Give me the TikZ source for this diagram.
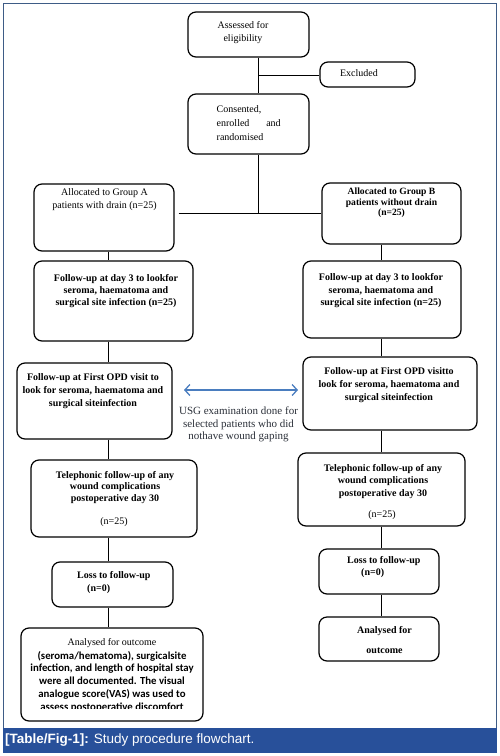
\documentclass[tikz,border=0pt]{standalone}
\usepackage{fontspec}
\setmainfont{Liberation Serif}
\newfontfamily\calfont{Carlito}
\newfontfamily\capfont{Liberation Sans}
\usetikzlibrary{arrows.meta}
\definecolor{framecol}{HTML}{3E5C86}
\definecolor{barcol}{HTML}{28509A}
\definecolor{arrcol}{HTML}{4A7DBF}
\definecolor{usgcol}{HTML}{2A2F38}
\begin{document}
\begin{tikzpicture}[x=1pt,y=-1pt,
  box/.style={draw=black, line width=1.2pt, rounded corners=8pt, inner sep=0pt},
  conn/.style={draw=black, line width=0.9pt},
  txt/.style={inner sep=0pt, align=center, font=\fontsize{10}{13}\selectfont},
  btxt/.style={inner sep=0pt, align=center, font=\fontsize{10}{13}\selectfont\bfseries}]
\useasboundingbox (0,0) rectangle (499,756);
% frame and caption bar
\draw[framecol, line width=1pt] (3,3) rectangle (496,728);
\fill[barcol] (2.5,728) rectangle (496.5,753);
\node[anchor=base west, inner sep=0pt, text=white, font=\capfont\fontsize{13.5}{16}\selectfont] (cap) at (5,743.5) {\textbf{[Table/Fig-1]:} Study procedure flowchart.};
% boxes
\node[box, minimum width=121pt, minimum height=45pt] (b1) at (248.5,34.5) {};
\node[box, minimum width=95pt, minimum height=25pt] (bex) at (367.5,74.5) {};
\node[box, minimum width=121pt, minimum height=60pt] (b2) at (248.5,124) {};
\node[box, minimum width=140pt, minimum height=67pt] (gA) at (104,217.5) {};
\node[box, minimum width=139pt, minimum height=61pt] (gB) at (391.5,213.5) {};
\node[box, minimum width=159pt, minimum height=80pt] (dA) at (113.5,301) {};
\node[box, minimum width=158pt, minimum height=77pt] (dB) at (382,299.5) {};
\node[box, minimum width=155pt, minimum height=76pt] (oA) at (94.5,401) {};
\node[box, minimum width=174pt, minimum height=73pt] (oB) at (390,393.5) {};
\node[box, minimum width=166pt, minimum height=77pt] (tA) at (114,498.5) {};
\node[box, minimum width=167pt, minimum height=73pt] (tB) at (381.5,489.5) {};
\node[box, minimum width=121pt, minimum height=45pt] (lA) at (112.5,584.5) {};
\node[box, minimum width=120pt, minimum height=45pt] (lB) at (379,571.5) {};
\node[box, minimum width=182pt, minimum height=93pt] (aA) at (112,674.5) {};
\node[box, minimum width=120pt, minimum height=44pt] (aB) at (379,639) {};
% connector coordinates
\coordinate (spine) at (258,0);
\coordinate (exj) at (258,75);
\coordinate (jn) at (258,213);
\coordinate (colA) at (108,0);
\coordinate (colB) at (381.5,0);
\coordinate (arrL) at (184,390);
\coordinate (arrR) at (298,390);
% connectors
\draw[conn] (b1.south -| spine) -- (b2.north -| spine);
\draw[conn] (exj) -- (exj -| bex.west);
\draw[conn] (b2.south -| spine) -- (jn);
\draw[conn, shorten <=4pt] (jn -| gA.east) -- (jn -| gB.west);
\draw[conn] (gA.south -| colA) -- (dA.north -| colA);
\draw[conn] (dA.south -| colA) -- (oA.north -| colA);
\draw[conn] (oA.south -| colA) -- (tA.north -| colA);
\draw[conn] (tA.south -| colA) -- (lA.north -| colA);
\draw[conn] (lA.south -| colA) -- (aA.north -| colA);
\draw[conn] (gB.south -| colB) -- (dB.north -| colB);
\draw[conn] (dB.south -| colB) -- (oB.north -| colB);
\draw[conn] (oB.south -| colB) -- (tB.north -| colB);
\draw[conn] (tB.south -| colB) -- (lB.north -| colB);
\draw[conn] (lB.south -| colB) -- (aB.north -| colB);
\draw[arrcol, line width=1.3pt, {Straight Barb[length=5pt,width=11pt]}-{Straight Barb[length=5pt,width=11pt]}] (arrL) -- (arrR);
% texts
\node[txt] (t1) at (243,32.5) {Assessed for\\eligibility};
\node[txt] (tex) at (359,73) {Excluded};
\node[txt, align=left, anchor=west, font=\fontsize{10}{14}\selectfont] (t2) at (216.5,123) {Consented,\\\hbox to 64pt{enrolled\hfill and}\\randomised};
\node[txt] (tgA) at (104.5,199.5) {Allocated to Group A\\patients with drain (n=25)};
\node[btxt, font=\fontsize{9.6}{10.5}\selectfont\bfseries] (tgB) at (391.5,203) {Allocated to Group B\\patients without drain\\(n=25)};
\node[btxt, font=\fontsize{10}{12}\selectfont\bfseries] (tdA) at (116,291) {Follow-up at day 3 to lookfor\\seroma, haematoma and\\surgical site infection (n=25)};
\node[btxt, font=\fontsize{10}{12.5}\selectfont\bfseries] (tdB) at (381,291) {Follow-up at day 3 to lookfor\\seroma, haematoma and\\surgical site infection (n=25)};
\node[btxt] (toA) at (93,391.3) {Follow-up at First OPD visit to\\look for seroma, haematoma and\\surgical siteinfection};
\node[btxt, font=\fontsize{10}{13}\selectfont\bfseries] (toB) at (389,385) {Follow-up at First OPD visitto\\look for seroma, haematoma and\\surgical siteinfection};
\node[txt, text=usgcol, font=\fontsize{11}{12.5}\selectfont] (tusg) at (238.5,424.7) {USG examination done for\\selected patients who did\\nothave wound gaping};
\node[btxt, font=\fontsize{10}{11.5}\selectfont\bfseries] (ttA) at (115,487.5) {Telephonic follow-up of any\\wound complications\\postoperative day 30};
\node[txt] (tnA) at (114,522) {(n=25)};
\node[btxt, font=\fontsize{10}{12.5}\selectfont\bfseries] (ttB) at (383,481.5) {Telephonic follow-up of any\\wound complications\\postoperative day 30};
\node[txt] (tnB) at (382,515) {(n=25)};
\node[btxt, align=left, anchor=west] (tlA) at (77,582.5) {Loss to follow-up\\\hspace*{10pt}(n=0)};
\node[btxt, align=left, anchor=west, font=\fontsize{10}{12}\selectfont\bfseries] (tlB) at (347,567) {Loss to follow-up\\\hspace*{14pt}(n=0)};
\node[btxt, font=\fontsize{10}{20}\selectfont\bfseries] (taB) at (384.5,640) {Analysed for\\outcome};
\node[txt] (taA1) at (112,643) {Analysed for outcome};
\begin{scope}
\clip (20,648) rectangle (204,708.5);
\node[txt, font=\calfont\fontsize{10.8}{12.8}\selectfont\bfseries] (taA2) at (112,681.5) {(seroma/hematoma), surgicalsite\\infection, and length of hospital stay\\were all documented. The visual\\analogue score(VAS) was used to\\assess postoperative discomfort};
\end{scope}
\end{tikzpicture}
\end{document}
